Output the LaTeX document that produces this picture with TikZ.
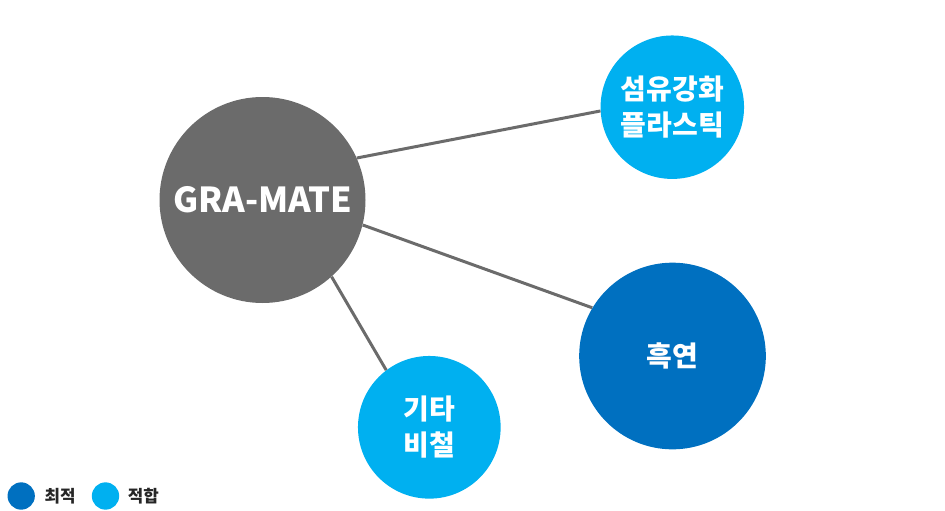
\documentclass[tikz,border=0pt]{standalone}
\usepackage{fontspec}
\setmainfont{Noto Sans CJK KR}
\usetikzlibrary{calc}

\definecolor{gmgray}{HTML}{6B6B6B}
\definecolor{lightblue}{HTML}{00B0F0}
\definecolor{darkblue}{HTML}{0070C0}

\begin{document}
\begin{tikzpicture}[x=0.75pt,y=-0.75pt,
  ball/.style={circle,inner sep=0pt,text=white,align=center,
    font=\bfseries\fontsize{21}{27}\selectfont},
  link/.style={gmgray,line width=2.25pt},
  legend/.style={anchor=west,inner sep=0pt,text=black!85,
    font=\bfseries\fontsize{12.6}{14}\selectfont}]
\useasboundingbox (0,0) rectangle (945,510);
\node[ball,fill=gmgray,minimum size=154.5pt,font=\bfseries\fontsize{25.8}{30}\selectfont] (gramate) at (262.5,200) {GRA-MATE};
\node[ball,fill=lightblue,minimum size=107.6pt] (frp) at (672.3,107.2) {섬유강화\\플라스틱};
\node[ball,fill=darkblue,minimum size=140pt] (graphite) at (672.5,356) {흑연};
\node[ball,fill=lightblue,minimum size=107pt] (nonferrous) at (429.3,427.3) {기타\\비철};
\draw[link] (gramate.24) -- (frp.183);
\draw[link] (gramate.-14) -- (graphite.149);
\draw[link] (gramate.-48) -- (nonferrous.127.5);
% legend
\node[circle,inner sep=0pt,fill=darkblue,minimum size=20.5pt] (best) at (21.2,496) {};
\node[legend] (besttext) at (44.3,496) {최적};
\node[circle,inner sep=0pt,fill=lightblue,minimum size=20.5pt] (fit) at (105.5,496) {};
\node[legend] (fittext) at (127.7,496) {적합};
\end{tikzpicture}
\end{document}
